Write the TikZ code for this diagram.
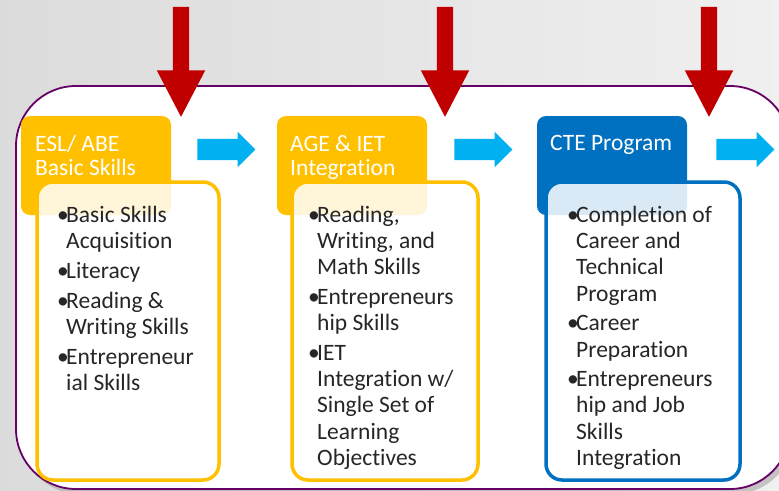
\documentclass[tikz,border=0pt]{standalone}
\usepackage{fontspec}
\setmainfont{Carlito}[Ligatures=NoCommon]
\usetikzlibrary{shapes.arrows}

\definecolor{skillorange}{HTML}{FFC000}
\definecolor{cteblue}{HTML}{0070C0}
\definecolor{flowcyan}{HTML}{00B0F0}
\definecolor{stepred}{HTML}{C00000}
\definecolor{framepurple}{HTML}{660066}

\newcommand{\bul}{\makebox[9pt][l]{\textbullet}}
\newcommand{\ind}{\hspace*{9pt}}

\begin{document}
\begin{tikzpicture}[x=1pt,y=-1pt]
        \tikzstyle{tab}=[rectangle, rounded corners=9pt, inner sep=0pt, minimum width=150pt, minimum height=99pt]
        \tikzstyle{card}=[rectangle, rounded corners=16pt, line width=3.5pt, fill=white, fill opacity=0.85, minimum height=298pt]
        \tikzstyle{tabtext}=[anchor=north west, inner sep=0pt, align=left, text=white, font=\fontsize{23.5}{24}\selectfont]
        \tikzstyle{itemtext}=[anchor=north west, inner sep=0pt, align=left, text=black!85, font=\fontsize{23.5}{26.2}\selectfont]
        \tikzstyle{droparrow}=[single arrow, fill=stepred, inner xsep=0pt, inner ysep=8pt, minimum height=110pt, single arrow head extend=16pt, single arrow tip angle=55, rotate=-90]
        \tikzstyle{flowarrow}=[single arrow, fill=flowcyan, inner xsep=0pt, inner ysep=10.5pt, minimum height=58pt, single arrow head extend=7pt, single arrow tip angle=90]
        \path[use as bounding box, clip] (0,0) rectangle (779,490);
        \fill[left color=black!14, right color=black!6] (0,0) rectangle (779,490);
        \fill[black!35, opacity=0.6, rounded corners=60pt] (20,90) rectangle (794,494);
        \draw[framepurple, line width=1.8pt, fill=white, rounded corners=60pt] (16,86) rectangle (790,489);
        \node[tab, fill=skillorange] (tab1) at (96,165.5) {};
        \node[card, draw=skillorange, minimum width=182pt] (card1) at (128,331) {};
        \node[tabtext] (head1) at (35,135) {ESL/ ABE\\Basic Skills};
        \node[itemtext] (items1) at (57,206) {\bul Basic Skills\\ \ind Acquisition\\[3.5pt]
          \bul Literacy\\[3.5pt]
          \bul Reading \&\\ \ind Writing Skills\\[3.5pt]
          \bul Entrepreneur\\ \ind ial Skills};
        \node[tab, fill=skillorange] (tab2) at (352,165.5) {};
        \node[card, draw=skillorange, minimum width=186pt] (card2) at (385,331) {};
        \node[tabtext] (head2) at (290,135) {AGE \& IET\\Integration};
        \node[itemtext] (items2) at (308,206) {\bul Reading,\\ \ind Writing, and\\ \ind Math Skills\\[3.5pt]
          \bul Entrepreneurs\\ \ind hip Skills\\[3.5pt]
          \bul IET\\ \ind Integration w/\\ \ind Single Set of\\ \ind Learning\\ \ind Objectives};
        \node[tab, fill=cteblue] (tab3) at (612,165.5) {};
        \node[card, draw=cteblue, minimum width=194pt] (card3) at (643,331) {};
        \node[tabtext] (head3) at (550,135) {CTE Program};
        \node[itemtext] (items3) at (567,206) {\bul Completion of\\ \ind Career and\\ \ind Technical\\ \ind Program\\[3.5pt]
          \bul Career\\ \ind Preparation\\[3.5pt]
          \bul Entrepreneurs\\ \ind hip and Job\\ \ind Skills\\ \ind Integration};
        \node[flowarrow] (flow1) at (221,149.5) {};
        \node[flowarrow] (flow2) at (478,149.5) {};
        \node[flowarrow] (flow3) at (740,149.5) {};
        \node[droparrow] (drop1) at (181,54) {};
        \node[droparrow] (drop2) at (445,54) {};
        \node[droparrow] (drop3) at (709,54) {};
\end{tikzpicture}
\end{document}
